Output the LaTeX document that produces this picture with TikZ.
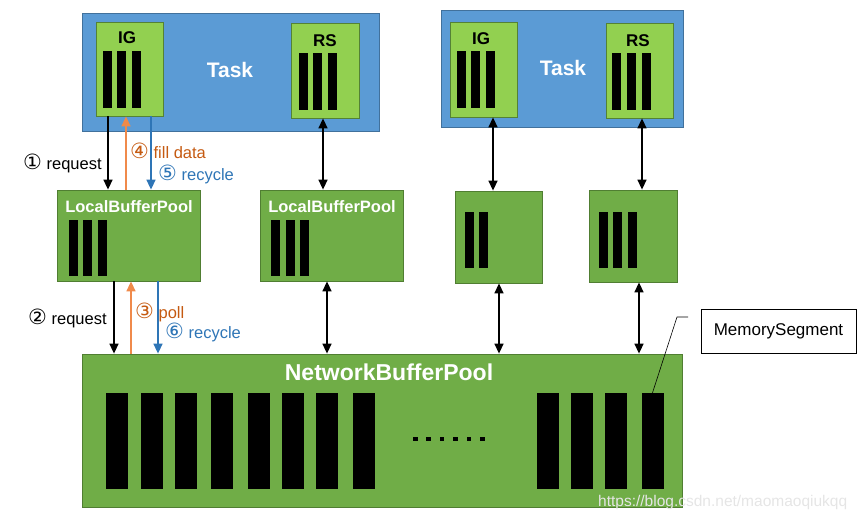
\documentclass[tikz,border=0pt]{standalone}
\usepackage{fontspec}
\setmainfont{Liberation Sans}
\newfontfamily\circfont{DejaVu Sans}
\usetikzlibrary{arrows.meta}

\definecolor{taskblue}{HTML}{5B9BD5}
\definecolor{taskedge}{HTML}{41719C}
\definecolor{gatelime}{HTML}{92D050}
\definecolor{gateedge}{HTML}{548235}
\definecolor{poolgreen}{HTML}{70AD47}
\definecolor{pooledge}{HTML}{507E32}
\definecolor{fillorange}{HTML}{F08A4B}
\definecolor{labelorange}{HTML}{C55A11}
\definecolor{recycleblue}{HTML}{2E75B6}

\newcommand\circnum[1]{{\circfont\fontsize{21}{21}\selectfont #1}}

\tikzset{
    task/.style={draw=taskedge, fill=taskblue, line width=0.8pt, inner sep=0pt},
    gate/.style={draw=gateedge, fill=gatelime, line width=0.8pt, inner sep=0pt},
    pool/.style={draw=pooledge, fill=poolgreen, line width=0.8pt, inner sep=0pt},
    seg/.style={fill=black, inner sep=0pt, minimum width=22pt, minimum height=96pt},
    link/.style={line width=1.5pt, -{Triangle[length=10pt,width=9pt]}},
    both/.style={line width=1.5pt, {Triangle[length=10pt,width=9pt]}-{Triangle[length=10pt,width=9pt]}},
    tasktitle/.style={font=\bfseries\fontsize{21}{24}\selectfont, text=white},
    pooltitle/.style={font=\bfseries\fontsize{16.5}{19}\selectfont, text=white},
    gatetitle/.style={font=\bfseries\fontsize{17}{19}\selectfont},
    lbl/.style={font=\fontsize{16.5}{19}\selectfont, anchor=west, inner sep=0pt}
}

\begin{document}
\begin{tikzpicture}[x=1pt, y=-1pt]
    \useasboundingbox (0,0) rectangle (862,519);

    % tasks with their input gate and result subpartition
    \node[task, minimum width=297pt, minimum height=118pt] (task1) at (230.5,72) {};
    \node[task, minimum width=242pt, minimum height=117pt] (task2) at (562,68.5) {};
    \node[tasktitle] (tasktext1) at (230,70) {Task};
    \node[tasktitle] (tasktext2) at (563,68) {Task};

    \node[gate, minimum width=67pt, minimum height=94pt] (ig1) at (129.5,69) {};
    \node[gate, minimum width=68pt, minimum height=95pt] (rs1) at (325,70.5) {};
    \node[gate, minimum width=67pt, minimum height=95pt] (ig2) at (483.5,69.5) {};
    \node[gate, minimum width=67pt, minimum height=95pt] (rs2) at (639.5,70.5) {};
    \node[gatetitle] (igtext1) at (127,38) {IG};
    \node[gatetitle] (rstext1) at (325,41) {RS};
    \node[gatetitle] (igtext2) at (481,39) {IG};
    \node[gatetitle] (rstext2) at (638,41) {RS};

    \foreach \x in {107.5,121.5,136.5,461.5,475.5,490.5}
        \fill (\x-4.5,51) rectangle ++(9,57);
    \foreach \x in {303,317.5,332,616.5,631.5,646}
        \fill (\x-4.5,53) rectangle ++(9,57);

    % local buffer pools
    \node[pool, minimum width=143pt, minimum height=91pt] (lbp1) at (128.5,235.5) {};
    \node[pool, minimum width=143pt, minimum height=91pt] (lbp2) at (331.5,235.5) {};
    \node[pool, minimum width=87pt, minimum height=92pt] (lbp3) at (498.5,237) {};
    \node[pool, minimum width=88pt, minimum height=92pt] (lbp4) at (633,236) {};
    \node[pooltitle] (lbptext1) at (129,207) {LocalBufferPool};
    \node[pooltitle] (lbptext2) at (332,207) {LocalBufferPool};

    \foreach \x in {73.5,87.5,102.5,275.5,290.5,304.5}
        \fill (\x-4.5,220) rectangle ++(9,56);
    \foreach \x in {469.5,483.5,603.5,617.5,632}
        \fill (\x-4.5,212) rectangle ++(9,56);

    % network buffer pool
    \node[pool, minimum width=600pt, minimum height=153pt] (nbp) at (382,430.5) {};
    \node[font=\bfseries\fontsize{23}{26}\selectfont, text=white] (nbptext) at (389,372) {NetworkBufferPool};
    \foreach \x [count=\i] in {117,151.5,186,222,258.5,293,327,363.5,548,582,616,652.5}
        \node[seg] (seg\i) at (\x,441) {};
    \foreach \i in {0,...,5}
        \fill (413+13.4*\i,436.5) rectangle ++(4.6,4.6);

    \node[draw, line width=0.8pt, minimum width=155pt, minimum height=44pt,
        font=\fontsize{17}{20}\selectfont] (ms) at (778.5,331) {MemorySegment};
    \coordinate (msfoot) at (688,317);
    \coordinate (msbend) at (677,317);
    \draw[line width=0.6pt] (msfoot) -- (msbend) -- (seg12.north);

    % task <-> local pool
    \draw[link] ([xshift=-21.5pt]ig1.south) -- ([xshift=-21.5pt]ig1.south |- lbp1.north);
    \draw[link, fillorange] ([xshift=-3.5pt]ig1.south |- lbp1.north) -- ([xshift=-3.5pt]ig1.south);
    \draw[link, recycleblue] ([xshift=21.5pt]ig1.south) -- ([xshift=21.5pt]ig1.south |- lbp1.north);
    \draw[both] ([xshift=-2pt]rs1.south) -- ([xshift=-2pt]rs1.south |- lbp2.north);
    \draw[both] ([xshift=9.5pt]ig2.south) -- ([xshift=9.5pt]ig2.south |- lbp3.north);
    \draw[both] ([xshift=2.5pt]rs2.south) -- ([xshift=2.5pt]rs2.south |- lbp4.north);

    % local pool <-> network pool
    \draw[link] ([xshift=-14.5pt]lbp1.south) -- ([xshift=-14.5pt]lbp1.south |- nbp.north);
    \draw[link, fillorange] ([xshift=2.5pt]lbp1.south |- nbp.north) -- ([xshift=2.5pt]lbp1.south);
    \draw[link, recycleblue] ([xshift=29.5pt]lbp1.south) -- ([xshift=29.5pt]lbp1.south |- nbp.north);
    \draw[both] ([xshift=-4.5pt]lbp2.south) -- ([xshift=-4.5pt]lbp2.south |- nbp.north);
    \draw[both] ([xshift=0.5pt]lbp3.south) -- ([xshift=0.5pt]lbp3.south |- nbp.north);
    \draw[both] ([xshift=6pt]lbp4.south) -- ([xshift=6pt]lbp4.south |- nbp.north);

    \node[lbl] (request1) at (23,163) {\circnum{①} request};
    \node[lbl, text=labelorange] (filldata) at (130,151) {\circnum{④} fill data};
    \node[lbl, text=recycleblue] (recycle1) at (158,174) {\circnum{⑤} recycle};
    \node[lbl] (request2) at (28,318) {\circnum{②} request};
    \node[lbl, text=labelorange] (poll) at (135,312) {\circnum{③} poll};
    \node[lbl, text=recycleblue] (recycle2) at (165,332) {\circnum{⑥} recycle};

    \node[lbl, text=white!80!gray, font=\fontsize{15.5}{18}\selectfont] (mark) at (598,502)
        {https://blog.csdn.net/maomaoqiukqq};
\end{tikzpicture}
\end{document}
